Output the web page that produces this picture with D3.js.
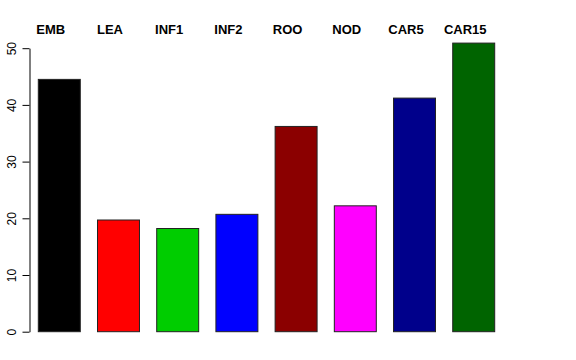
<!DOCTYPE html>
<html>
<head>
<meta charset="utf-8">
<script src="https://cdn.jsdelivr.net/npm/d3@7"></script>
<style>
  body { margin: 0; background: #fff; }
  svg { display: block; }
  .lab { font-family: "Liberation Sans", Arial, sans-serif; font-weight: bold; font-size: 13px; }
  .tick text { font-family: "Liberation Sans", Arial, sans-serif; font-size: 12px; }
</style>
</head>
<body>
<div id="chart"></div>
<script>
var categories = ["EMB", "LEA", "INF1", "INF2", "ROO", "NOD", "CAR5", "CAR15"];
var values = [44.5, 19.7, 18.2, 20.7, 36.2, 22.2, 41.2, 50.9];
var colors = ["#000000", "#FF0000", "#00CD00", "#0000FF", "#8B0000", "#FF00FF", "#00008B", "#006400"];
var yTicks = [0, 10, 20, 30, 40, 50];

var width = 576, height = 360;

var svg = d3.select("#chart")
  .append("svg")
  .attr("width", width)
  .attr("height", height);

var xScale = d3.scaleBand()
  .domain(categories)
  .range([38.3, 494.7])
  .paddingInner(0.291)
  .paddingOuter(0);

var yScale = d3.scaleLinear()
  .domain([0, 50])
  .range([331.7, 48.2]);

// bars
svg.selectAll(".bar")
  .data(categories)
  .enter().append("rect")
  .attr("class", "bar")
  .attr("x", function(d) { return xScale(d); })
  .attr("width", xScale.bandwidth())
  .attr("y", function(d, i) { return yScale(values[i]); })
  .attr("height", function(d, i) { return yScale(0) - yScale(values[i]); })
  .attr("fill", function(d, i) { return colors[i]; })
  .attr("stroke", "#222")
  .attr("stroke-width", 1);

// y axis
var yAxis = svg.append("g")
  .attr("transform", "translate(29.5,0)")
  .call(d3.axisLeft(yScale).tickValues(yTicks).tickSize(7).tickSizeOuter(0).tickPadding(0));

yAxis.select(".domain").attr("stroke", "#000");
yAxis.selectAll(".tick line").attr("stroke", "#000");
yAxis.selectAll(".tick text")
  .attr("fill", "#000")
  .attr("text-anchor", "middle")
  .attr("x", null)
  .attr("dy", null)
  .attr("transform", "translate(-13.5,0) rotate(-90)");

// category labels on top
svg.selectAll(".lab")
  .data(categories)
  .enter().append("text")
  .attr("class", "lab")
  .attr("x", function(d) { return xScale(d) + xScale.bandwidth() / 2 - 8.5; })
  .attr("y", 34)
  .attr("text-anchor", "middle")
  .attr("fill", "#000")
  .text(function(d) { return d; });
</script>
</body>
</html>
